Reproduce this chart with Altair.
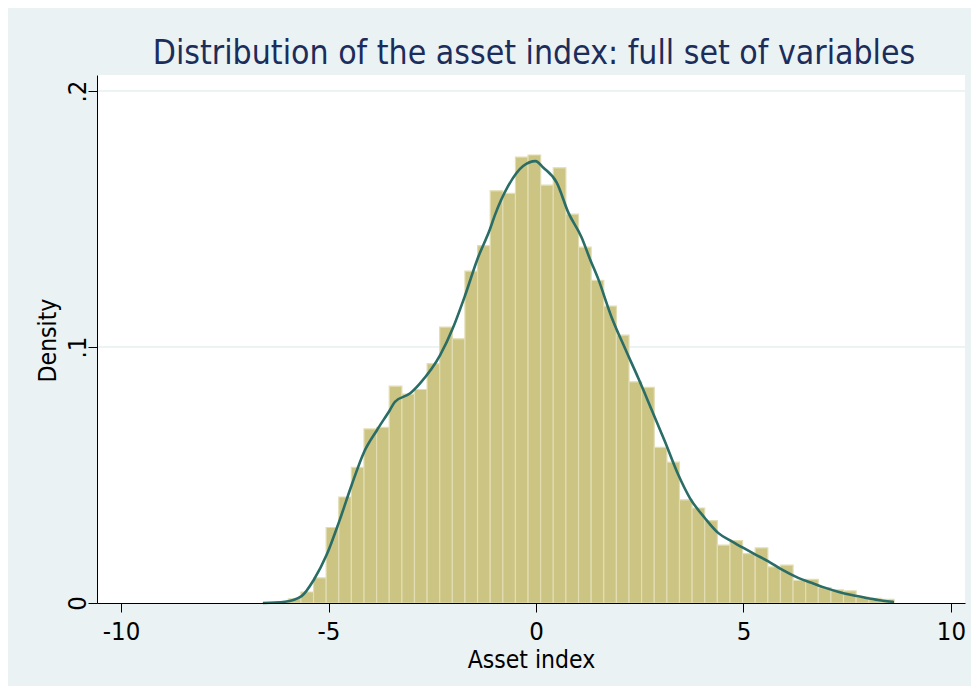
import altair as alt
import pandas as pd

# Histogram bin edges (50 bins) and bar densities
bin_edges = [-6.578, -6.274, -5.970, -5.666, -5.361, -5.057, -4.753, -4.449, -4.145, -3.841,
             -3.537, -3.232, -2.928, -2.624, -2.320, -2.016, -1.712, -1.408, -1.103, -0.799,
             -0.495, -0.191, 0.113, 0.417, 0.721, 1.026, 1.330, 1.634, 1.938, 2.242,
             2.546, 2.850, 3.155, 3.459, 3.763, 4.067, 4.371, 4.675, 4.979, 5.283,
             5.588, 5.892, 6.196, 6.500, 6.804, 7.108, 7.412, 7.716, 8.021, 8.325, 8.629]
bar_heights = [0.0002, 0.0005, 0.0016, 0.0043, 0.0098, 0.0295, 0.0414, 0.0530, 0.0680, 0.0686,
               0.0847, 0.0816, 0.0834, 0.0935, 0.1078, 0.1032, 0.1296, 0.1396, 0.1610, 0.1600,
               0.1742, 0.1750, 0.1632, 0.1700, 0.1519, 0.1390, 0.1260, 0.1160, 0.1046, 0.0864,
               0.0842, 0.0608, 0.0550, 0.0403, 0.0371, 0.0322, 0.0226, 0.0244, 0.0193, 0.0215,
               0.0141, 0.0148, 0.0088, 0.0092, 0.0060, 0.0051, 0.0047, 0.0023, 0.0018, 0.0014]

# Kernel density curve
kde_x = [-6.58, -6.05, -5.65, -5.35, -5.04, -4.74, -4.44, -4.14, -3.83, -3.52, -3.40, -3.04,
         -2.80, -2.31, -2.01, -1.71, -1.41, -1.11, -0.99, -0.67, -0.31, -0.01, 0.18, 0.50,
         0.78, 1.10, 1.30, 1.50, 1.82, 2.15, 2.47, 2.79, 3.11, 3.43, 3.71, 4.07, 4.39, 4.72,
         5.00, 5.28, 5.60, 5.92, 6.32, 6.64, 6.96, 7.28, 7.61, 7.93, 8.25, 8.63]
kde_y = [0.0, 0.0005, 0.0027, 0.0092, 0.0190, 0.0320, 0.0462, 0.0591, 0.0676, 0.0754, 0.0786,
         0.0818, 0.0857, 0.0968, 0.1071, 0.1201, 0.1344, 0.1460, 0.1515, 0.1629, 0.1707, 0.1726,
         0.1700, 0.1642, 0.1525, 0.1428, 0.1344, 0.1266, 0.1117, 0.0993, 0.0877, 0.0754, 0.0630,
         0.0501, 0.0410, 0.0332, 0.0274, 0.0241, 0.0215, 0.0190, 0.0163, 0.0131, 0.0098, 0.0079,
         0.0060, 0.0044, 0.0031, 0.0021, 0.0012, 0.0004]

x_ticks = [-10, -5, 0, 5, 10]
y_ticks = [0, 0.1, 0.2]
grid_values = [0.1, 0.2]

FONT = "DejaVu Sans Condensed, Liberation Sans Narrow, Liberation Sans"

bars_df = pd.DataFrame({"x0": bin_edges[:-1], "x1": bin_edges[1:], "density": bar_heights})
kde_df = pd.DataFrame({"x": kde_x, "density": kde_y})
grid_df = pd.DataFrame({"density": grid_values})

xs = alt.Scale(domain=[-10.58, 10.34], nice=False, zero=False)
ys = alt.Scale(domain=[0, 0.20625], nice=False)

xaxis = alt.Axis(values=x_ticks, labelExpr="'' + datum.value", title="Asset index",
                 grid=False, zindex=1, tickSize=9, tickColor="#000000", domainColor="#000000",
                 tickWidth=1, domainWidth=1, labelFont=FONT, labelFontSize=25.5, labelColor="#000000",
                 labelPadding=7, titleFont=FONT, titleFontSize=24.5, titleFontWeight="normal",
                 titleColor="#000000", titleY=64, titleBaseline="alphabetic")
yaxis = alt.Axis(values=y_ticks, labelExpr="datum.value == 0 ? '0' : '.' + round(datum.value * 10)",
                 title="Density", grid=False, zindex=1, tickSize=9, tickColor="#000000",
                 domainColor="#000000", tickWidth=1, domainWidth=1, labelFont=FONT,
                 labelFontSize=25.5, labelColor="#000000", labelAngle=270, labelAlign="center",
                 labelBaseline="alphabetic", labelPadding=3, titleFont=FONT, titleFontSize=24.5,
                 titleFontWeight="normal", titleColor="#000000", titleAngle=270,
                 titleAlign="center", titleBaseline="middle", titleX=-49, titleY=265)

grid = alt.Chart(grid_df).mark_rule(color="#e6eff1", strokeWidth=1.5).encode(
    y=alt.Y("density:Q", scale=ys, axis=yaxis)
)

bars = alt.Chart(bars_df).mark_rect(color="#cbc483", stroke="#e2ddb3", strokeWidth=1.2).encode(
    x=alt.X("x0:Q", scale=xs, axis=xaxis),
    x2="x1:Q",
    y=alt.Y("density:Q", scale=ys, axis=yaxis),
)

line = alt.Chart(kde_df).mark_line(color="#2a6c66", strokeWidth=2.6, interpolate="monotone").encode(
    x=alt.X("x:Q", scale=xs, axis=xaxis),
    y=alt.Y("density:Q", scale=ys, axis=yaxis),
)

chart = alt.layer(grid, bars, line).properties(
    width=868,
    height=528,
    padding={"left": 89, "top": 67, "right": 6, "bottom": 83},
    autosize=alt.AutoSizeParams(type="none"),
    background="#eaf2f3",
    title=alt.TitleParams(
        text="Distribution of the asset index: full set of variables",
        font=FONT, fontSize=33.5, fontWeight="normal", color="#1c2d5c",
        anchor="middle", baseline="alphabetic", offset=13, dx=3, dy=35, frame="group",
    ),
).configure_view(fill="white", strokeWidth=0)

chart.save("out.html", embed_options={"renderer": "svg", "actions": False})
